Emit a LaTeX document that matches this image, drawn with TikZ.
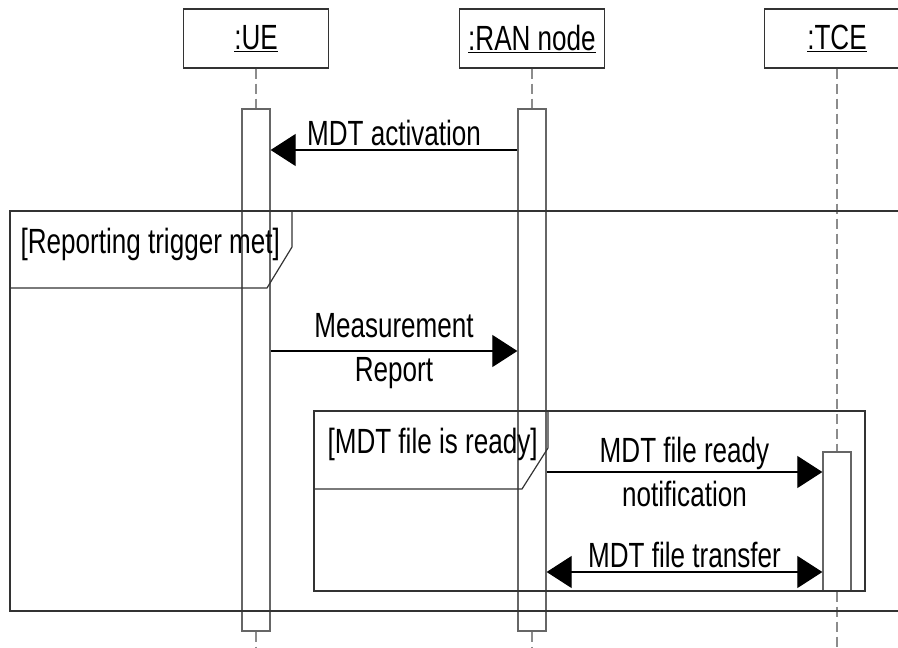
\documentclass[tikz,border=0pt]{standalone}
\usepackage{fontspec}
\setmainfont{Liberation Sans}[FakeStretch=0.745]
\usetikzlibrary{arrows.meta}

\begin{document}
\begin{tikzpicture}[x=1pt,y=-1pt,font=\fontsize{35}{44}\selectfont,
>={Triangle[length=25pt,width=32pt]},
obj/.style={draw=black!80,line width=1.2pt,minimum width=145pt,minimum height=59pt,inner sep=0pt},
bar/.style={draw=black!60,line width=1.3pt,minimum width=28pt,inner sep=0pt},
life/.style={draw=black!45,line width=1.8pt,dash pattern=on 10pt off 5pt},
msg/.style={draw=black,line width=1.1pt,->},
bimsg/.style={draw=black,line width=1.1pt,<->},
frm/.style={draw=black!80,line width=1.2pt}]
\useasboundingbox (0,0) rectangle (898,648);
\clip (0,0) rectangle (898,648);

% objects
\node[obj] (ue) at (256,38.5) {\underline{:UE}};
\node[obj] (ran) at (532,38.5) {\underline{:RAN node}};
\node[obj] (tce) at (837,38.5) {\underline{:TCE}};

% activations
\node[bar,minimum height=522pt] (uebar) at (256,370) {};
\node[bar,minimum height=522pt] (ranbar) at (532,370) {};
\node[bar,minimum height=139pt] (tcebar) at (837,521.5) {};

% lifelines
\coordinate (bottom) at (0,652);
\draw[life] (ue) -- (uebar);
\draw[life] (ran) -- (ranbar);
\draw[life] (tce) -- (tcebar);
\draw[life] (uebar.south) -- (uebar.south |- bottom);
\draw[life] (ranbar.south) -- (ranbar.south |- bottom);
\draw[life] (tcebar.south) -- (tcebar.south |- bottom);

% fragments
\draw[frm] (10,211) rectangle (912,611);
\draw[frm] (10,288) -- (267,288) -- (292,247) -- (292,211);
\node[anchor=west] (trig) at (17,244) {[Reporting trigger met]};
\draw[frm] (314,411) rectangle (865,591);
\draw[frm] (314,489) -- (522,489) -- (548,448) -- (548,411);
\node[anchor=west] (ready) at (324,444) {[MDT file is ready]};

% messages
\coordinate (m1) at (0,150);
\coordinate (m2) at (0,351);
\coordinate (m3) at (0,472);
\coordinate (m4) at (0,572);
\draw[msg] (ranbar.west |- m1) -- node[above] {MDT activation} (uebar.east |- m1);
\draw[msg] (uebar.east |- m2) -- node[align=center] {Measurement\\Report} (ranbar.west |- m2);
\draw[msg] (ranbar.east |- m3) -- node[align=center] {MDT file ready\\notification} (tcebar.west |- m3);
\draw[bimsg] (ranbar.east |- m4) -- node[above] {MDT file transfer} (tcebar.west |- m4);
\end{tikzpicture}
\end{document}
